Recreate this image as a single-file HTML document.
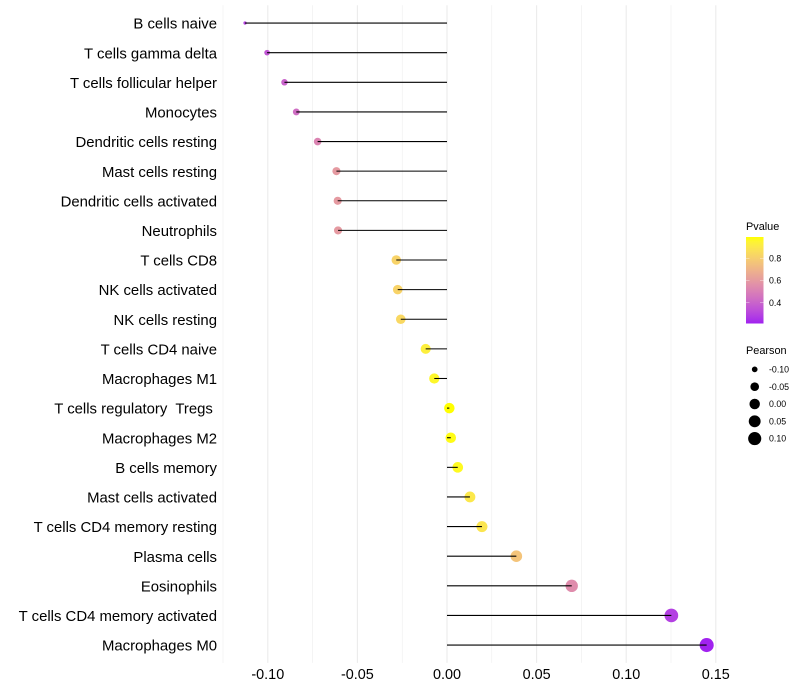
<!DOCTYPE html>
<html lang="en">
<head>
<meta charset="utf-8">
<title>Lollipop chart of immune cell correlation</title>
<style>
html,body{margin:0;padding:0;background:#fff;}
svg{display:block;font-family:"Liberation Sans",sans-serif;}
text{white-space:pre;}
</style>
</head>
<body>
<svg id="chart" xmlns="http://www.w3.org/2000/svg" width="800" height="700" viewBox="0 0 800 700">
<g id="grid"></g>
<g id="points"></g>
<g id="stems"></g>
<g id="ylabels"></g>
<g id="xlabels"></g>
<g id="legend-p"></g>
<g id="legend-s"></g>
</svg>
<script>
const categories = ["B cells naive","T cells gamma delta","T cells follicular helper","Monocytes","Dendritic cells resting","Mast cells resting","Dendritic cells activated","Neutrophils","T cells CD8","NK cells activated","NK cells resting","T cells CD4 naive","Macrophages M1","T cells regulatory  Tregs ","Macrophages M2","B cells memory","Mast cells activated","T cells CD4 memory resting","Plasma cells","Eosinophils","T cells CD4 memory activated","Macrophages M0"];
const pearson = [-0.1127,-0.1004,-0.0907,-0.0841,-0.0722,-0.0617,-0.061,-0.0608,-0.0283,-0.0275,-0.0258,-0.0119,-0.0071,0.0013,0.0021,0.006,0.0128,0.0195,0.0387,0.0696,0.1252,0.1449];
const pvalues = [0.30,0.36,0.40,0.44,0.52,0.60,0.60,0.60,0.82,0.82,0.84,0.93,0.96,0.99,0.98,0.97,0.90,0.89,0.76,0.55,0.29,0.22];
const xMajorTicks = [-0.10,-0.05,0,0.05,0.10,0.15];
const xMinorTicks = [-0.125,-0.075,-0.025,0.025,0.075,0.125];
const xTickLabels = ["-0.10","-0.05","0.00","0.05","0.10","0.15"];
const pLegendTicks = [0.8,0.6,0.4];
const pLegendLabels = ["0.8","0.6","0.4"];
const sizeLegendValues = [-0.10,-0.05,0,0.05,0.10];
const sizeLegendLabels = ["-0.10","-0.05","0.00","0.05","0.10"];

const NS = "http://www.w3.org/2000/svg";
function mk(tag, attrs, parent, txt){
  const el = document.createElementNS(NS, tag);
  for (const k in attrs) el.setAttribute(k, attrs[k]);
  if (txt !== undefined) el.textContent = txt;
  parent.appendChild(el);
  return el;
}
const xZero = 447, xPerUnit = 1792;
const xScale = v => xZero + v * xPerUnit;
const yScale = i => 23.05 + 29.62 * i;
const panelTop = 5.3, panelBottom = 662.9;

const pMin = 0.217, pMax = 0.99;
const vMin = Math.min(...pearson), vMax = Math.max(...pearson);
const sizeScale = v => 1.65 + 5.4 * Math.sqrt(Math.max(0, (v - vMin) / (vMax - vMin)));

function srgbToLab(c){
  const l = c.map(u => { u /= 255; return u > 0.04045 ? Math.pow((u + 0.055) / 1.055, 2.4) : u / 12.92; });
  const X = (0.4124 * l[0] + 0.3576 * l[1] + 0.1805 * l[2]) / 0.95047;
  const Y = 0.2126 * l[0] + 0.7152 * l[1] + 0.0722 * l[2];
  const Z = (0.0193 * l[0] + 0.1192 * l[1] + 0.9505 * l[2]) / 1.08883;
  const f = t => t > 0.008856 ? Math.cbrt(t) : 7.787 * t + 16 / 116;
  return [116 * f(Y) - 16, 500 * (f(X) - f(Y)), 200 * (f(Y) - f(Z))];
}
function labToCss(L){
  const fy = (L[0] + 16) / 116, fx = fy + L[1] / 500, fz = fy - L[2] / 200;
  const g = t => t * t * t > 0.008856 ? t * t * t : (t - 16 / 116) / 7.787;
  const X = g(fx) * 0.95047, Y = g(fy), Z = g(fz) * 1.08883;
  const r = 3.2406 * X - 1.5372 * Y - 0.4986 * Z;
  const gn = -0.9689 * X + 1.8758 * Y + 0.0415 * Z;
  const b = 0.0557 * X - 0.204 * Y + 1.057 * Z;
  const e = u => {
    u = Math.max(0, Math.min(1, u));
    return Math.round(255 * (u > 0.0031308 ? 1.055 * Math.pow(u, 1 / 2.4) - 0.055 : 12.92 * u));
  };
  return "rgb(" + e(r) + "," + e(gn) + "," + e(b) + ")";
}
const labLow = srgbToLab([160, 32, 240]);
const labHigh = srgbToLab([255, 255, 0]);
function colorScale(p){
  const t = Math.max(0, Math.min(1, (p - pMin) / (pMax - pMin)));
  return labToCss(labLow.map((a, i) => a + (labHigh[i] - a) * t));
}

const grid = document.getElementById("grid");
xMinorTicks.forEach(v => {
  const el = mk("line", {x1: xScale(v), x2: xScale(v), y1: panelTop, y2: panelBottom, stroke: "#ebebeb", "stroke-width": 0.53}, grid);
  
  
});
xMajorTicks.forEach(v => {
  const el = mk("line", {x1: xScale(v), x2: xScale(v), y1: panelTop, y2: panelBottom, stroke: "#ebebeb", "stroke-width": 1.07}, grid);
  
  
});

const pts = document.getElementById("points");
const stems = document.getElementById("stems");
const ylab = document.getElementById("ylabels");
categories.forEach((c, i) => {
  const y = yScale(i), x = xScale(pearson[i]);
  const dot = mk("circle", {cx: x, cy: y, r: sizeScale(pearson[i]), fill: colorScale(pvalues[i])}, pts);
  
  
  const stem = mk("line", {x1: xScale(0), x2: x, y1: y, y2: y, stroke: "#000", "stroke-width": 1.07}, stems);
  
  
  const lab = mk("text", {x: 217, y: y + 5.6, "text-anchor": "end", "font-size": 14.9, fill: "#000"}, ylab, c);
  
  
});

const xlab = document.getElementById("xlabels");
xMajorTicks.forEach((v, i) => {
  const lab = mk("text", {x: xScale(v), y: 679, "text-anchor": "middle", "font-size": 14.4, fill: "#000"}, xlab, xTickLabels[i]);
  
  
});

const lp = document.getElementById("legend-p");
const pTitle = mk("text", {x: 746, y: 230, "font-size": 10.9, fill: "#000"}, lp, "Pvalue");


const barLeft = 746, barRight = 763.5, barTop = 237, barBottom = 323.5;
const barY = p => 258.3 + (0.8 - p) * 111;
const defs = mk("defs", {}, lp);
const grad = mk("linearGradient", {id: "pgrad", x1: 0, y1: 1, x2: 0, y2: 0}, defs);
for (let k = 0; k <= 20; k++) {
  mk("stop", {offset: k / 20, "stop-color": colorScale(pMin + (pMax - pMin) * k / 20)}, grad);
}
const bar = mk("rect", {x: barLeft, y: barTop, width: barRight - barLeft, height: barBottom - barTop, fill: "url(#pgrad)"}, lp);


pLegendTicks.forEach((p, i) => {
  const y = barY(p);
  mk("line", {x1: barLeft, x2: barLeft + 3.5, y1: y, y2: y, stroke: "#fff", "stroke-opacity": 0.6, "stroke-width": 0.6}, lp);
  mk("line", {x1: barRight - 3.5, x2: barRight, y1: y, y2: y, stroke: "#fff", "stroke-opacity": 0.6, "stroke-width": 0.6}, lp);
  const lab = mk("text", {x: 769, y: y + 3.1, "font-size": 8.8, fill: "#000"}, lp, pLegendLabels[i]);
  
  
});

const ls = document.getElementById("legend-s");
const sTitle = mk("text", {x: 746, y: 354, "font-size": 10.9, fill: "#000"}, ls, "Pearson");


sizeLegendValues.forEach((v, i) => {
  const y = 369.4 + 17.3 * i;
  const dot = mk("circle", {cx: 754.7, cy: y, r: sizeScale(v), fill: "#000"}, ls);
  
  
  const lab = mk("text", {x: 769, y: y + 3.1, "font-size": 8.8, fill: "#000"}, ls, sizeLegendLabels[i]);
  
  
});
</script>
</body>
</html>
